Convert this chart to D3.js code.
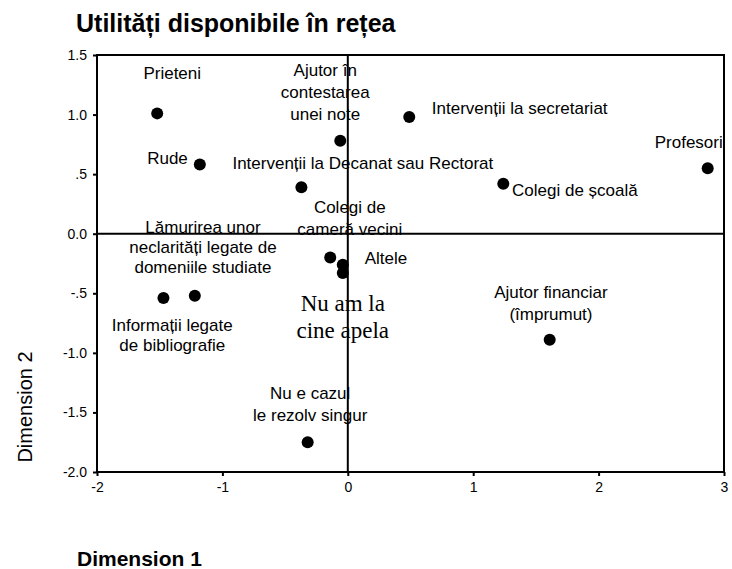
<!DOCTYPE html>
<html><head><meta charset="utf-8">
<script src="https://cdn.jsdelivr.net/npm/d3@7"></script>
<style>body{margin:0;background:#fff}</style>
</head><body><svg id="c" width="732" height="569"></svg>
<script>
// ---- data ----
const categories = ["Prieteni","Ajutor în contestarea unei note","Intervenții la secretariat","Profesori","Rude",
  "Intervenții la Decanat sau Rectorat","Colegi de școală","Colegi de cameră vecini","Altele","Nu am la cine apela",
  "Lămurirea unor neclarități legate de domeniile studiate","Informații legate de bibliografie",
  "Ajutor financiar (împrumut)","Nu e cazul, le rezolv singur"];
const dim1 = [-1.52,-0.06,0.49,2.87,-1.18,-0.37,1.24,-0.14,-0.04,-0.04,-1.22,-1.47,1.61,-0.32];
const dim2 = [1.01,0.78,0.98,0.55,0.58,0.39,0.42,-0.20,-0.26,-0.33,-0.52,-0.54,-0.89,-1.75];
const xTicks = [-2,-1,0,1,2,3];
const xTickLabels = ["-2","-1","0","1","2","3"];
const yTicks = [1.5,1.0,0.5,0,-0.5,-1.0,-1.5,-2.0];
const yTickLabels = ["1.5","1.0",".5","0.0","-.5","-1.0","-1.5","-2.0"];
// label text lines and anchor positions (data units)
const labelLines = [["Prieteni"],["Ajutor în","contestarea","unei note"],["Intervenții la secretariat"],["Profesori"],["Rude"],
  ["Intervenții la Decanat sau Rectorat"],["Colegi de școală"],["Colegi de","cameră vecini"],["Altele"],["Nu am la","cine apela"],
  ["Lămurirea unor","neclarități legate de","domeniile studiate"],["Informații legate","de bibliografie"],
  ["Ajutor financiar","(împrumut)"],["Nu e cazul","le rezolv singur"]];
const labelX = [-1.40,-0.18,0.67,2.99,-1.60,-0.92,1.31,0.016,0.135,-0.04,-1.155,-1.40,1.62,-0.30];
const labelY = [1.30,1.32,1.005,0.72,0.586,0.543,0.317,0.174,-0.254,-0.65,0.006,-0.82,-0.54,-1.39];
const labelAnchor = ["middle","middle","start","end","start","start","start","middle","start","middle","middle","middle","middle","middle"];

// ---- chart ----
const svg = d3.select("#c");
const W = 732, H = 569;
const x = d3.scaleLinear().domain([-2,3]).range([97,724]);
const y = d3.scaleLinear().domain([-2,1.5]).range([472,55]);
const sans = "'Liberation Sans', Arial, sans-serif";
const serif = "'Liberation Serif', 'Times New Roman', serif";

svg.append("rect").attr("width",W).attr("height",H).attr("fill","#fff");

svg.append("text").attr("x",76).attr("y",32).attr("font-family",sans).attr("font-weight","bold")
  .attr("font-size",25).attr("fill","#000").text("Utilități disponibile în rețea");

// axes
const xAxis = d3.axisBottom(x).tickValues(xTicks).tickFormat((d,i)=>xTickLabels[i]).tickSize(4).tickPadding(6);
const yAxis = d3.axisLeft(y).tickValues(yTicks).tickFormat((d,i)=>yTickLabels[i]).tickSize(4).tickPadding(6);
const gx = svg.append("g").attr("transform",`translate(0,${y(-2)})`).call(xAxis);
const gy = svg.append("g").attr("transform",`translate(${x(-2)},0)`).call(yAxis);
[gx,gy].forEach(g=>{
  g.select(".domain").remove();
  g.selectAll(".tick line").attr("stroke","#000").attr("stroke-width",2);
  g.selectAll(".tick text").attr("font-family",sans).attr("font-size",14).attr("fill","#000");
});

// frame
svg.append("rect").attr("x",x(-2)).attr("y",y(1.5)).attr("width",x(3)-x(-2)).attr("height",y(-2)-y(1.5))
  .attr("fill","none").attr("stroke","#000").attr("stroke-width",2);
// zero lines
svg.append("line").attr("x1",x(-2)).attr("x2",x(3)).attr("y1",y(0)).attr("y2",y(0)).attr("stroke","#000").attr("stroke-width",2);
svg.append("line").attr("x1",x(0)).attr("x2",x(0)).attr("y1",y(1.5)).attr("y2",y(-2)).attr("stroke","#000").attr("stroke-width",2);

// points
svg.append("g").selectAll("circle").data(categories).join("circle")
  .attr("cx",(d,i)=>x(dim1[i])).attr("cy",(d,i)=>y(dim2[i])).attr("r",6).attr("fill","#000");

// labels
const lg = svg.append("g");
categories.forEach((c,i)=>{
  const isSerif = i===9;
  const t = lg.append("text").attr("x",x(labelX[i])).attr("y",y(labelY[i]))
    .attr("text-anchor",labelAnchor[i]).attr("font-family",isSerif?serif:sans)
    .attr("font-size",isSerif?23:17).attr("fill","#000");
  labelLines[i].forEach((ln,j)=>{
    t.append("tspan").attr("x",x(labelX[i])).attr("dy",j===0?0:(isSerif?27:(i===10||i===11?20:22))).text(ln);
  });
});

// axis titles
svg.append("text").attr("x",77).attr("y",566).attr("font-family",sans).attr("font-weight","bold")
  .attr("font-size",21).attr("fill","#000").text("Dimension 1");
svg.append("text").attr("transform","translate(32,407) rotate(-90)").attr("text-anchor","middle")
  .attr("font-family",sans).attr("font-size",20).attr("fill","#000").text("Dimension 2");
</script></body></html>
